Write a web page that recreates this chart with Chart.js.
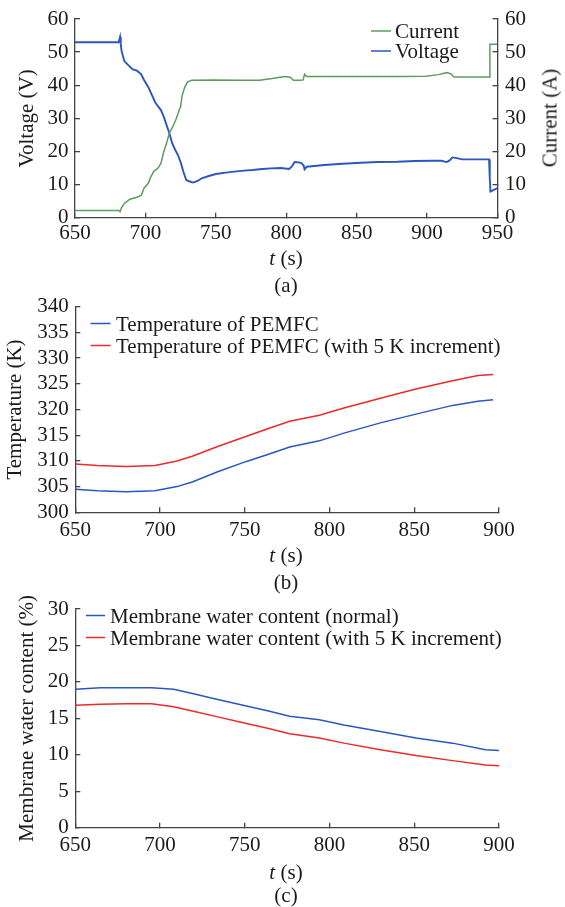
<!DOCTYPE html>
<html>
<head>
<meta charset="utf-8">
<script src="https://cdn.jsdelivr.net/npm/chart.js@4.4.1/dist/chart.umd.min.js"></script>
<style>
  html, body { margin: 0; padding: 0; background: #fff; }
  body { width: 565px; height: 907px; position: relative; overflow: hidden; }
  canvas { position: absolute; left: 0; }
  .lbl { position: absolute; transform: translate(-50%, -50%); white-space: nowrap; line-height: 1;
         font-family: "Liberation Serif", "Times New Roman", serif; font-size: 21px; color: #1a1a1a; }
  .rot { transform: translate(-50%, -50%) rotate(-90deg); }
</style>
</head>
<body>
<canvas id="cA" width="565" height="290" style="top:0px"></canvas>
<canvas id="cB" width="565" height="300" style="top:290px"></canvas>
<canvas id="cC" width="565" height="317" style="top:590px"></canvas>

<div class="lbl rot" style="left:550px; top:118px;">Current (A)</div>
<div class="lbl" style="left:286px; top:258px;"><i>t</i> (s)</div>
<div class="lbl" style="left:286px; top:285px;">(a)</div>
<div class="lbl" style="left:286px; top:555px;"><i>t</i> (s)</div>
<div class="lbl" style="left:286px; top:582px;">(b)</div>
<div class="lbl" style="left:286px; top:872px;"><i>t</i> (s)</div>
<div class="lbl" style="left:286px; top:895px;">(c)</div>

<script>
// ---------------- DATA ----------------
// Panel (a): Voltage (V)
const tVoltage = [650, 681, 682, 682.5, 683, 685, 688, 691, 694, 697, 699, 702, 704, 707, 709, 711, 713, 715, 717, 719, 721, 723, 725, 727, 729, 731, 734, 737, 740, 745, 750, 757, 763, 770, 776, 783, 789, 796, 802, 804, 806, 809, 811, 812.5, 813, 814.6, 820, 827, 840, 853, 865, 879, 891, 904, 910, 914, 916, 918, 921, 925, 935, 944, 944.5, 945, 947.4, 950];
const voltage  = [53, 53, 54.6, 52.5, 50.5, 47.3, 46, 44.8, 44.4, 43.3, 41.6, 39.5, 37.6, 34.8, 33.6, 32.5, 30.5, 28, 25.5, 22.5, 20.6, 19, 16.8, 13.8, 11.4, 11, 10.6, 11.1, 11.9, 12.6, 13.2, 13.6, 13.9, 14.2, 14.4, 14.7, 14.9, 15, 14.7, 15.5, 16.8, 16.7, 16.4, 15.6, 14.6, 15.4, 15.6, 15.9, 16.3, 16.6, 16.8, 16.9, 17.1, 17.2, 17.2, 16.8, 17.3, 18.2, 18.0, 17.6, 17.6, 17.6, 12, 7.9, 8.4, 8.9];
// Panel (a): Current (A)
const tCurrent = [650, 681, 682, 683, 685, 689, 694, 697, 699, 702, 704, 706, 709, 711, 713, 715, 717, 720, 722, 724, 725, 726, 728, 730, 733, 750, 765, 781, 790, 799, 803, 805, 810, 812, 813, 814.5, 830, 853, 880, 899, 908, 914, 917, 919, 944, 944.6, 950];
const current  = [2.2, 2.2, 1.8, 3, 4.3, 5.6, 6.2, 6.7, 8.9, 10.4, 12.5, 14, 15, 16.4, 19.9, 22.5, 25.5, 28, 30, 32.5, 33.5, 36.8, 39.5, 41, 41.5, 41.6, 41.5, 41.5, 42, 42.6, 42.4, 41.5, 41.5, 41.6, 43.3, 42.6, 42.6, 42.6, 42.6, 42.7, 43.2, 43.8, 43.4, 42.5, 42.5, 52.4, 52.4];

// Panel (b): temperature (K)
const tTemp = [650, 663, 680, 697, 710, 719, 734, 751, 764, 776.5, 794, 808.5, 830, 851, 872.6, 887.6, 896.5];
const tempNormal = [304.5, 304.2, 304.0, 304.2, 305.0, 305.9, 307.9, 309.9, 311.3, 312.7, 313.9, 315.4, 317.4, 319.1, 320.8, 321.6, 321.9];
const tempInc    = [309.4, 309.1, 308.9, 309.1, 310.0, 310.9, 312.8, 314.8, 316.3, 317.7, 318.9, 320.3, 322.2, 324.0, 325.6, 326.6, 326.8];

// Panel (c): membrane water content (%)
const tWater = [650, 665, 680, 695, 708, 721, 734, 751, 764, 776.5, 794, 808.5, 830, 851, 872.6, 892, 900];
const waterNormal = [19.0, 19.2, 19.2, 19.2, 19.0, 18.3, 17.6, 16.7, 16.0, 15.3, 14.8, 14.1, 13.2, 12.3, 11.6, 10.7, 10.6];
const waterInc    = [16.8, 16.95, 17.0, 17.0, 16.6, 15.9, 15.2, 14.3, 13.6, 12.9, 12.3, 11.6, 10.7, 9.9, 9.2, 8.6, 8.5];

const labelsA = ['Current', 'Voltage'];
const labelsB = ['Temperature of PEMFC', 'Temperature of PEMFC (with 5 K increment)'];
const labelsC = ['Membrane water content (normal)', 'Membrane water content (with 5 K increment)'];

// ---------------- STYLE ----------------
const FAMILY = '"Liberation Serif", "Times New Roman", serif';
const FS = 21;
const TEXT = '#1a1a1a';
const AXIS = '#444';
const BLUE = '#2b56c2';
const GREEN = '#5d9c5d';
const RED = '#f0282a';

const pts = (xs, ys) => xs.map((x, i) => ({ x: x, y: ys[i] }));

const serifLegend = {
  id: 'serifLegend',
  afterDatasetsDraw(chart, args, opts) {
    const ctx = chart.ctx;
    ctx.save();
    ctx.font = FS + 'px ' + FAMILY;
    ctx.textBaseline = 'middle';
    ctx.textAlign = 'left';
    ctx.fillStyle = TEXT;
    chart.data.datasets.forEach((ds, i) => {
      const y = opts.y + i * opts.dy;
      ctx.strokeStyle = ds.borderColor;
      ctx.lineWidth = 1.5;
      ctx.beginPath();
      ctx.moveTo(opts.x0, y - 1.5);
      ctx.lineTo(opts.x1, y - 1.5);
      ctx.stroke();
      ctx.fillText(ds.label, opts.tx, y);
    });
    ctx.restore();
  }
};

function yAxis(pos, min, max, step, width, pad, title, titlePad) {
  return {
    type: 'linear', position: pos, min: min, max: max,
    border: { display: true, color: AXIS, width: 1.3 },
    grid: { drawOnChartArea: false, drawTicks: true, tickLength: -5, color: AXIS, lineWidth: 1.3 },
    ticks: { stepSize: step, padding: pad, color: TEXT, autoSkip: false, font: { family: FAMILY, size: FS } },
    title: title ? { display: true, text: title, color: TEXT, padding: { top: titlePad, bottom: 0 },
                     font: { family: FAMILY, size: FS, lineHeight: 1.2 } } : { display: false },
    afterFit: (s) => { s.width = width; s.paddingTop = 0; s.paddingBottom = 0; }
  };
}
function xAxis(min, max, pad) {
  return {
    type: 'linear', position: 'bottom', min: min, max: max,
    border: { display: true, color: AXIS, width: 1.3 },
    grid: { drawOnChartArea: false, drawTicks: true, tickLength: -5, color: AXIS, lineWidth: 1.3 },
    ticks: { stepSize: 50, padding: pad, color: TEXT, maxRotation: 0, autoSkip: false,
             font: { family: FAMILY, size: FS } },
    afterFit: (s) => { s.height = 30; s.paddingLeft = 0; s.paddingRight = 0; }
  };
}
function lineDs(label, data, color, w) {
  return { label: label, data: data, borderColor: color, backgroundColor: color, borderWidth: w,
           pointRadius: 0, tension: 0, fill: false };
}
const common = {
  responsive: false, animation: false, devicePixelRatio: 1,
  plugins: { legend: { display: false }, tooltip: { enabled: false } }
};

// ---------------- PANEL A ----------------
new Chart(document.getElementById('cA'), {
  type: 'line',
  data: { datasets: [
    Object.assign(lineDs(labelsA[0], pts(tCurrent, current), GREEN, 1.5), { yAxisID: 'y2' }),
    Object.assign(lineDs(labelsA[1], pts(tVoltage, voltage), BLUE, 1.9), { yAxisID: 'y' })
  ]},
  options: Object.assign({}, common, {
    layout: { padding: { top: 19, left: 0, right: 0, bottom: 42.3 } },
    scales: {
      x: xAxis(650, 950, 8.4),
      y: yAxis('left', 0, 60, 10, 75, 11.5, 'Voltage (V)', 14.4),
      y2: yAxis('right', 0, 60, 10, 67.5, 12.5, null, 0)
    },
    plugins: Object.assign({}, common.plugins, {
      serifLegend: { x0: 371, x1: 391, tx: 395, y: 32.5, dy: 20 }
    })
  }),
  plugins: [serifLegend]
});

// ---------------- PANEL B ----------------
new Chart(document.getElementById('cB'), {
  type: 'line',
  data: { datasets: [
    lineDs(labelsB[0], pts(tTemp, tempNormal), BLUE, 1.5),
    lineDs(labelsB[1], pts(tTemp, tempInc), RED, 1.5)
  ]},
  options: Object.assign({}, common, {
    layout: { padding: { top: 16.7, left: 0, right: 66, bottom: 47.7 } },
    scales: {
      x: xAxis(650, 900, 10.6),
      y: yAxis('left', 300, 340, 5, 75.3, 11.5, 'Temperature (K)', 2.6)
    },
    plugins: Object.assign({}, common.plugins, {
      serifLegend: { x0: 90.5, x1: 110.5, tx: 116, y: 35, dy: 22 }
    })
  }),
  plugins: [serifLegend]
});

// ---------------- PANEL C ----------------
new Chart(document.getElementById('cC'), {
  type: 'line',
  data: { datasets: [
    lineDs(labelsC[0], pts(tWater, waterNormal), BLUE, 1.5),
    lineDs(labelsC[1], pts(tWater, waterInc), RED, 1.5)
  ]},
  options: Object.assign({}, common, {
    layout: { padding: { top: 19, left: 0, right: 66, bottom: 49.3 } },
    scales: {
      x: xAxis(650, 900, 10.6),
      y: yAxis('left', 0, 30, 5, 75.3, 11.5, 'Membrane water content (%)', 14.6)
    },
    plugins: Object.assign({}, common.plugins, {
      serifLegend: { x0: 86, x1: 105, tx: 110, y: 27, dy: 22 }
    })
  }),
  plugins: [serifLegend]
});
</script>
</body>
</html>
